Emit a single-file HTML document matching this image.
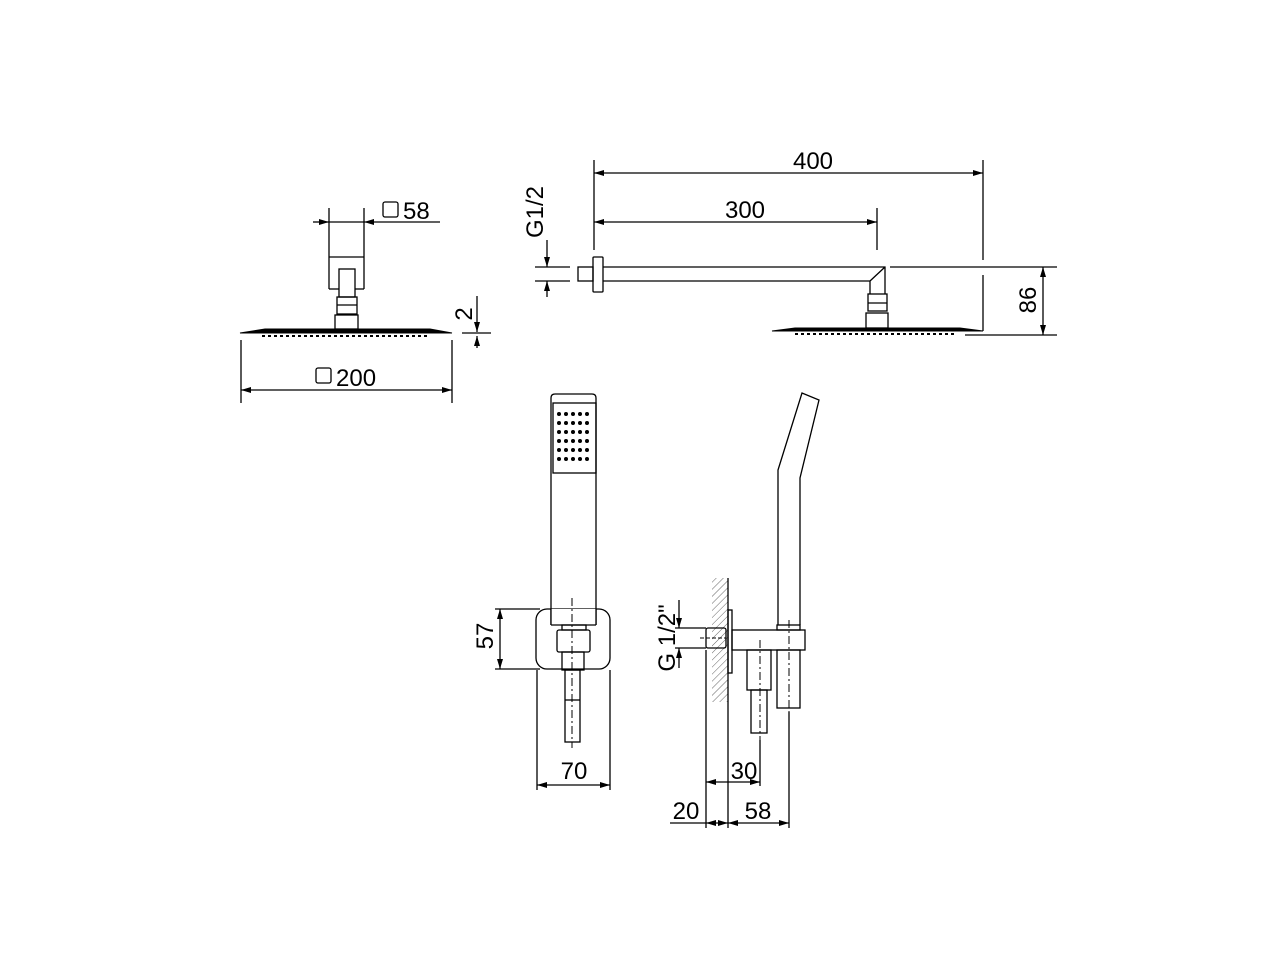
<!DOCTYPE html>
<html><head><meta charset="utf-8"><style>
html,body{margin:0;padding:0;background:#fff;}
svg{display:block;}
text{font-family:"Liberation Sans",sans-serif;fill:#000;}
</style></head><body>
<svg width="1280" height="960" viewBox="0 0 1280 960" xmlns="http://www.w3.org/2000/svg">
<defs>
<marker id="a" viewBox="0 0 10 6" refX="10" refY="3" markerWidth="10" markerHeight="6" markerUnits="userSpaceOnUse" orient="auto-start-reverse"><path d="M0,0 L10,3 L0,6 z" fill="#000"/></marker>
<pattern id="h" width="5" height="5" patternUnits="userSpaceOnUse" patternTransform="rotate(45)"><line x1="0" y1="0" x2="0" y2="5" stroke="#666" stroke-width="1"/></pattern>
</defs>
<g fill="none" stroke="#000" stroke-width="1.3">
<line x1="329" y1="208" x2="329" y2="289"/><line x1="364" y1="208" x2="364" y2="289"/>
<line x1="329" y1="257" x2="364" y2="257"/><line x1="329" y1="289" x2="339" y2="289"/><line x1="355" y1="289" x2="364" y2="289"/>
<rect x="339" y="269" width="16" height="28"/>
<rect x="337" y="297" width="20" height="17"/><line x1="337" y1="305" x2="357" y2="305"/>
<rect x="335" y="315" width="23" height="14"/>
<path d="M240,333 L265,329 L430,329 L452,333 Z" fill="#000" stroke-width="1"/>
<line x1="262" y1="336" x2="430" y2="336" stroke-dasharray="3,3" stroke-width="2"/>
<line x1="313" y1="222" x2="329" y2="222" marker-end="url(#a)"/>
<line x1="440" y1="222" x2="364" y2="222" marker-end="url(#a)"/>
<line x1="329" y1="222" x2="364" y2="222"/>
<rect x="383" y="202" width="15" height="15" rx="2"/>
<line x1="241" y1="340" x2="241" y2="403"/><line x1="452" y1="340" x2="452" y2="403"/>
<line x1="241" y1="390" x2="452" y2="390" marker-start="url(#a)" marker-end="url(#a)"/>
<rect x="316" y="368" width="15" height="15" rx="2"/>
<line x1="477" y1="296" x2="477" y2="332" marker-end="url(#a)"/>
<line x1="477" y1="348" x2="477" y2="336" marker-end="url(#a)"/>
<line x1="462" y1="333" x2="491" y2="333"/>
<line x1="594" y1="160" x2="594" y2="250"/>
<line x1="983" y1="160" x2="983" y2="260"/><line x1="983" y1="275" x2="983" y2="331"/>
<line x1="877" y1="208" x2="877" y2="250"/>
<line x1="594" y1="173" x2="983" y2="173" marker-start="url(#a)" marker-end="url(#a)"/>
<line x1="594" y1="222" x2="877" y2="222" marker-start="url(#a)" marker-end="url(#a)"/>
<rect x="578" y="267" width="15" height="14"/>
<rect x="593" y="257" width="10" height="35" rx="1"/>
<path d="M603,267 L885,267 L885,294 M603,281 L870,281 L870,294 M870,281 L885,267"/>
<rect x="868" y="294" width="19" height="17"/><line x1="868" y1="303" x2="887" y2="303"/>
<rect x="866" y="313" width="22" height="15"/>
<path d="M772,331 L795,328 L960,328 L983,331 Z" fill="#000" stroke-width="1"/>
<line x1="795" y1="334" x2="955" y2="334" stroke-dasharray="3,3" stroke-width="2"/>
<line x1="890" y1="267" x2="1057" y2="267"/><line x1="965" y1="335" x2="1057" y2="335"/>
<line x1="1043" y1="267" x2="1043" y2="335" marker-start="url(#a)" marker-end="url(#a)"/>
<line x1="547" y1="240" x2="547" y2="267" marker-end="url(#a)"/>
<line x1="547" y1="297" x2="547" y2="281" marker-end="url(#a)"/>
<line x1="535" y1="267" x2="570" y2="267"/><line x1="535" y1="281" x2="570" y2="281"/>
<path d="M551,625 L551,398 Q551,394 555,394 L592,394 Q596,394 596,398 L596,625"/>
<rect x="553" y="403" width="43" height="70"/>
<rect x="536" y="609" width="74" height="60" rx="11"/>
<rect x="551" y="609" width="45" height="16" fill="#fff" stroke="none"/>
<line x1="551" y1="609" x2="551" y2="625"/><line x1="596" y1="609" x2="596" y2="625"/>
<line x1="551" y1="625" x2="596" y2="625"/>
<rect x="562" y="625" width="24" height="5"/>
<rect x="557" y="630" width="33" height="22" rx="2"/>
<rect x="562" y="652" width="22" height="18"/>
<rect x="565" y="670" width="15" height="72"/><line x1="565" y1="700" x2="580" y2="700"/>
<line x1="572" y1="598" x2="572" y2="748" stroke-dasharray="8,3,2,3" stroke-width="1"/>
<line x1="495" y1="609" x2="540" y2="609"/><line x1="495" y1="669" x2="540" y2="669"/>
<line x1="500" y1="609" x2="500" y2="669" marker-start="url(#a)" marker-end="url(#a)"/>
<line x1="537" y1="670" x2="537" y2="790"/><line x1="610" y1="670" x2="610" y2="790"/>
<line x1="537" y1="785" x2="610" y2="785" marker-start="url(#a)" marker-end="url(#a)"/>
<rect x="712" y="578" width="16" height="124" fill="url(#h)" stroke="none"/>
<line x1="728" y1="578" x2="728" y2="702"/>
<rect x="728" y="610" width="4" height="63"/>
<rect x="706" y="628" width="20" height="20" rx="2"/>
<line x1="700" y1="638" x2="726" y2="638" stroke-dasharray="4,2" stroke-width="1"/>
<rect x="732" y="630" width="73" height="20"/>
<rect x="747" y="650" width="24" height="40"/>
<rect x="751" y="690" width="16" height="43"/>
<line x1="760" y1="640" x2="760" y2="740" stroke-dasharray="8,3,2,3" stroke-width="1"/>
<rect x="777" y="650" width="23" height="58"/>
<line x1="789" y1="620" x2="789" y2="712" stroke-dasharray="8,3,2,3" stroke-width="1"/>
<path d="M778,625 L778,470 L802,393 L819,400 L800,478 L800,625"/>
<rect x="777" y="625" width="23" height="5"/>
<line x1="675" y1="628" x2="706" y2="628"/><line x1="675" y1="648" x2="706" y2="648"/>
<line x1="679" y1="600" x2="679" y2="628" marker-end="url(#a)"/>
<line x1="679" y1="668" x2="679" y2="648" marker-end="url(#a)"/>
<line x1="706" y1="650" x2="706" y2="828"/>
<line x1="728" y1="702" x2="728" y2="828"/>
<line x1="760" y1="740" x2="760" y2="786"/>
<line x1="789" y1="712" x2="789" y2="828"/>
<line x1="706" y1="782" x2="760" y2="782" marker-start="url(#a)" marker-end="url(#a)"/>
<line x1="670" y1="823" x2="706" y2="823"/>
<line x1="706" y1="823" x2="728" y2="823" marker-start="url(#a)" marker-end="url(#a)"/>
<line x1="728" y1="823" x2="789" y2="823" marker-start="url(#a)" marker-end="url(#a)"/>
</g>
<g fill="#000">
<circle cx="559" cy="414" r="2"/><circle cx="566" cy="414" r="2"/><circle cx="573" cy="414" r="2"/><circle cx="580" cy="414" r="2"/><circle cx="587" cy="414" r="2"/>
<circle cx="559" cy="423" r="2"/><circle cx="566" cy="423" r="2"/><circle cx="573" cy="423" r="2"/><circle cx="580" cy="423" r="2"/><circle cx="587" cy="423" r="2"/>
<circle cx="559" cy="432" r="2"/><circle cx="566" cy="432" r="2"/><circle cx="573" cy="432" r="2"/><circle cx="580" cy="432" r="2"/><circle cx="587" cy="432" r="2"/>
<circle cx="559" cy="441" r="2"/><circle cx="566" cy="441" r="2"/><circle cx="573" cy="441" r="2"/><circle cx="580" cy="441" r="2"/><circle cx="587" cy="441" r="2"/>
<circle cx="559" cy="450" r="2"/><circle cx="566" cy="450" r="2"/><circle cx="573" cy="450" r="2"/><circle cx="580" cy="450" r="2"/><circle cx="587" cy="450" r="2"/>
<circle cx="559" cy="459" r="2"/><circle cx="566" cy="459" r="2"/><circle cx="573" cy="459" r="2"/><circle cx="580" cy="459" r="2"/><circle cx="587" cy="459" r="2"/>
</g>
<g font-size="24">
<text x="403" y="219">58</text>
<text x="336" y="386">200</text>
<text transform="translate(472,314) rotate(-90)" text-anchor="middle">2</text>
<text x="813" y="169" text-anchor="middle">400</text>
<text x="745" y="218" text-anchor="middle">300</text>
<text transform="translate(1036,300) rotate(-90)" text-anchor="middle">86</text>
<text transform="translate(543,212) rotate(-90)" text-anchor="middle">G1/2</text>
<text transform="translate(493,636) rotate(-90)" text-anchor="middle">57</text>
<text x="574" y="779" text-anchor="middle">70</text>
<text transform="translate(675,638) rotate(-90)" text-anchor="middle">G 1/2"</text>
<text x="744" y="779" text-anchor="middle">30</text>
<text x="686" y="819" text-anchor="middle">20</text>
<text x="758" y="819" text-anchor="middle">58</text>
</g>
</svg>
</body></html>
